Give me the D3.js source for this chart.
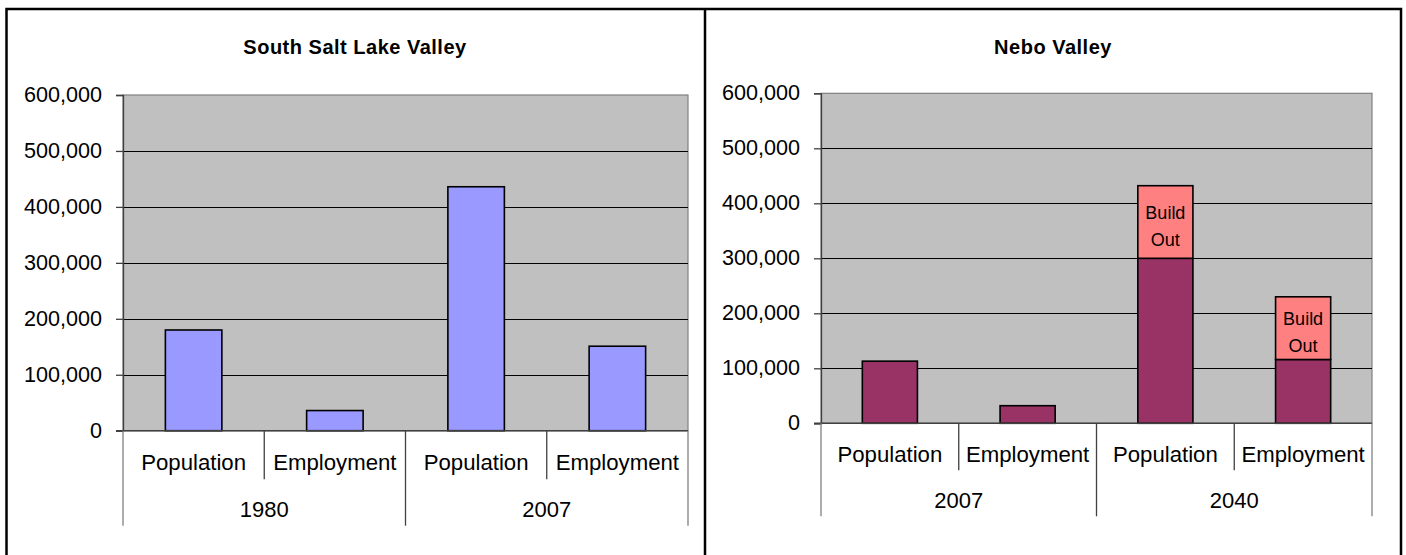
<!DOCTYPE html>
<html>
<head>
<meta charset="utf-8">
<script src="https://cdn.jsdelivr.net/npm/d3@7"></script>
<style>
  html, body { margin: 0; padding: 0; background: #ffffff; }
  svg { display: block; }
  text { font-family: "Liberation Sans", Arial, sans-serif; fill: #000; }
</style>
</head>
<body>
<svg id="chart" width="1406" height="555"></svg>
<script>
// ---------- data ----------
const categories = ["Population", "Employment", "Population", "Employment"];
const leftTitle = "South Salt Lake Valley";
const leftGroups = ["1980", "2007"];
const leftValues = [180000, 36000, 436000, 151000];

const rightTitle = "Nebo Valley";
const rightGroups = ["2007", "2040"];
const rightBase = [113000, 32000, 300000, 116000];
const rightBuildOut = [0, 0, 132000, 114000];
const buildOutLabel = ["Build", "Out"];

const yTicks = [0, 100000, 200000, 300000, 400000, 500000, 600000];

// ---------- drawing ----------
const svg = d3.select("#chart");

// panel frames
const frame = svg.append("g").attr("stroke", "#000").attr("fill", "none");
frame.append("path").attr("stroke-width", 2.5)
  .attr("d", "M6.5,560 V9 H1401 V560 M705,9 V560");

function drawPanel(cfg) {
  const g = svg.append("g");
  const y = d3.scaleLinear().domain([0, 600000]).range([cfg.bottom, cfg.top]);
  const x = d3.scaleBand().domain(d3.range(cfg.categories.length))
    .range([cfg.left, cfg.right]).paddingInner(0.6).paddingOuter(0.3);
  const sep = d3.scaleLinear().domain([0, cfg.categories.length]).range([cfg.left, cfg.right]);

  // title
  g.append("text").attr("x", cfg.titleX).attr("y", 54)
    .attr("text-anchor", "middle").attr("font-weight", "bold")
    .attr("font-size", 20).attr("letter-spacing", 0.5)
    .text(cfg.title);

  // plot area
  g.append("rect").attr("x", cfg.left).attr("y", cfg.top)
    .attr("width", cfg.right - cfg.left).attr("height", cfg.bottom - cfg.top)
    .attr("fill", "#C0C0C0").attr("stroke", "#808080").attr("stroke-width", 1.2);

  // gridlines
  g.append("g").selectAll("line").data(yTicks.filter(d => d > 0 && d < 600000)).join("line")
    .attr("x1", cfg.left).attr("x2", cfg.right)
    .attr("y1", d => Math.round(y(d)) + 0.5).attr("y2", d => Math.round(y(d)) + 0.5)
    .attr("stroke", "#000").attr("stroke-width", 1);

  // y axis
  const ya = g.append("g").attr("transform", `translate(${cfg.left},0)`)
    .call(d3.axisLeft(y).tickValues(yTicks).tickSize(7).tickPadding(14)
      .tickFormat(d3.format(",")));
  ya.select(".domain").attr("stroke", "#404040").attr("stroke-width", 1.3);
  ya.selectAll(".tick line").attr("stroke", "#404040").attr("stroke-width", 1.3);
  ya.selectAll(".tick text").attr("font-size", 21.6).attr("font-family", "Liberation Sans, Arial, sans-serif")
    .attr("dy", "0.3em");

  // bars
  const stacks = cfg.series;
  stacks.forEach(s => {
    g.append("g").selectAll("rect").data(s.values.map((v, i) => ({ v, i, b: s.base ? s.base[i] : 0 })).filter(d => d.v > 0))
      .join("rect")
      .attr("x", d => x(d.i)).attr("width", x.bandwidth())
      .attr("y", d => y(d.b + d.v)).attr("height", d => y(d.b) - y(d.b + d.v))
      .attr("fill", s.color).attr("stroke", "#000").attr("stroke-width", 1.6);
    if (s.label) {
      const lg = g.append("g").selectAll("text")
        .data(s.values.map((v, i) => ({ v, i, b: s.base[i] })).filter(d => d.v > 0))
        .join("text")
        .attr("x", d => x(d.i) + x.bandwidth() / 2)
        .attr("y", d => (y(d.b) + y(d.b + d.v)) / 2)
        .attr("text-anchor", "middle").attr("font-size", 18);
      lg.selectAll("tspan").data(s.label).join("tspan")
        .attr("x", function () { return d3.select(this.parentNode).attr("x"); })
        .attr("dy", (d, k) => k === 0 ? "-0.15em" : "1.5em")
        .text(d => d);
    }
  });

  // category axis line
  g.append("line").attr("x1", cfg.left - 7).attr("x2", cfg.right)
    .attr("y1", cfg.bottom).attr("y2", cfg.bottom)
    .attr("stroke", "#404040").attr("stroke-width", 1.5);

  // category separators
  const n = cfg.categories.length;
  g.append("g").selectAll("line").data(d3.range(n + 1)).join("line")
    .attr("x1", d => sep(d)).attr("x2", d => sep(d))
    .attr("y1", cfg.bottom)
    .attr("y2", d => (d % 2 === 0) ? cfg.bottom + cfg.longSep : cfg.bottom + cfg.shortSep)
    .attr("stroke", d => (d === 0 || d === n) ? "#808080" : "#404040").attr("stroke-width", 1.3);

  // category labels
  g.append("g").selectAll("text").data(cfg.categories).join("text")
    .attr("x", (d, i) => x(i) + x.bandwidth() / 2)
    .attr("y", cfg.bottom + cfg.catLabelDy)
    .attr("text-anchor", "middle").attr("font-size", 22.2).attr("dy", "0.35em")
    .text(d => d);

  // group labels
  g.append("g").selectAll("text").data(cfg.groups).join("text")
    .attr("x", (d, i) => (sep(2 * i) + sep(2 * i + 2)) / 2)
    .attr("y", cfg.bottom + cfg.groupLabelDy)
    .attr("text-anchor", "middle").attr("font-size", 22).attr("dy", "0.35em")
    .text(d => d);
}

drawPanel({
  title: leftTitle, titleX: 355,
  left: 123, right: 688, top: 95, bottom: 430.7,
  categories, groups: leftGroups,
  series: [{ values: leftValues, color: "#9999FF" }],
  shortSep: 48.5, longSep: 95, catLabelDy: 32, groupLabelDy: 79
});

drawPanel({
  title: rightTitle, titleX: 1053,
  left: 821, right: 1372, top: 93.3, bottom: 423.3,
  categories, groups: rightGroups,
  series: [
    { values: rightBase, color: "#993366" },
    { values: rightBuildOut, base: rightBase, color: "#FF8080", label: buildOutLabel }
  ],
  shortSep: 47, longSep: 93, catLabelDy: 31, groupLabelDy: 77
});
</script>
</body>
</html>
